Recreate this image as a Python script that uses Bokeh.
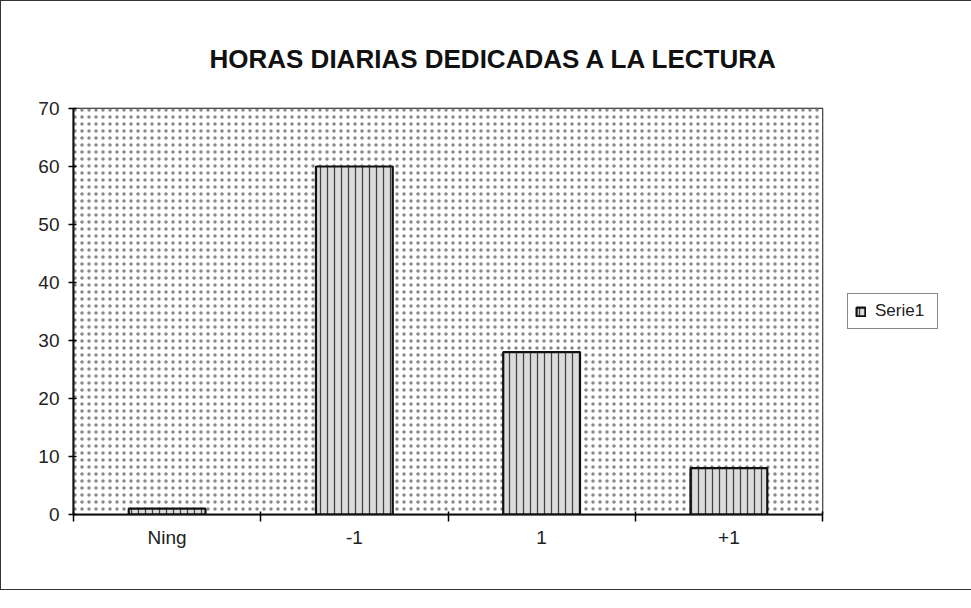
from bokeh.plotting import figure
from bokeh.models import (Range1d, LinearAxis, FixedTicker, BoxAnnotation,
                          Legend, LegendItem, ColumnDataSource)
from bokeh.embed import file_html
from bokeh.resources import INLINE

# ---- data ----
categories = ["Ning", "-1", "1", "+1"]
values = [1, 60, 28, 8]
y_ticks = [0, 10, 20, 30, 40, 50, 60, 70]
series_name = "Serie1"
title_text = "HORAS DIARIAS DEDICADAS A LA LECTURA"

centers = [i + 0.5 for i in range(len(categories))]
bounds = list(range(len(categories) + 1))

src = ColumnDataSource(dict(x=centers, top=values, cat=categories))

p = figure(width=960, height=588, frame_width=749, frame_height=406,
           output_backend="svg", toolbar_location=None,
           x_range=Range1d(0, len(categories)), y_range=Range1d(0, 70),
           x_axis_type=None, y_axis_type=None,
           min_border_left=72, min_border_right=0, min_border_top=107,
           min_border_bottom=75)
p.styles = {"border": "1.5px solid #333"}
p.background_fill_color = "white"
p.border_fill_color = "white"
p.outline_line_color = "#111"
p.outline_line_width = 1.5
p.grid.visible = False

# dotted background of the plot area
bg = BoxAnnotation(fill_color="white", fill_alpha=1.0, line_alpha=0,
                   hatch_pattern=".", hatch_scale=7, hatch_weight=1.0,
                   hatch_color="#888", level="underlay")
p.add_layout(bg)

# title
p.title.text = title_text
p.title.align = "left"
p.title.text_font = "Liberation Sans"
p.title.text_font_size = "26px"
p.title.text_font_style = "bold"
p.title.text_color = "#111"
p.title.standoff = 70
p.title.offset = 136

# y axis
yax = LinearAxis(ticker=FixedTicker(ticks=y_ticks, minor_ticks=[]))
yax.axis_line_width = 2
yax.axis_line_color = "#111"
yax.major_tick_in = 3
yax.major_tick_out = 5
yax.major_tick_line_width = 1.5
yax.major_label_text_font = "Liberation Sans"
yax.major_label_text_font_size = "19px"
yax.major_label_text_color = "#222"
yax.major_label_standoff = 9
p.add_layout(yax, "left")

# x axis ticks at category boundaries (no labels)
xt = LinearAxis(ticker=FixedTicker(ticks=bounds, minor_ticks=[]))
xt.axis_line_width = 2
xt.axis_line_color = "#111"
xt.major_tick_in = 3
xt.major_tick_out = 7
xt.major_tick_line_width = 1.5
xt.major_label_overrides = {b: "" for b in bounds}
xt.major_label_standoff = 0
p.add_layout(xt, "below")

# x axis category labels
xl = LinearAxis(ticker=FixedTicker(ticks=centers, minor_ticks=[]))
xl.major_label_overrides = {c: lab for c, lab in zip(centers, categories)}
xl.axis_line_color = None
xl.major_tick_in = 0
xl.major_tick_out = 0
xl.major_label_text_font = "Liberation Sans"
xl.major_label_text_font_size = "19px"
xl.major_label_text_color = "#222"
xl.major_label_standoff = 5
p.add_layout(xl, "below")

r = p.vbar(x="x", top="top", bottom=0, width=0.41, source=src,
           fill_color="#dcdcdc", line_color="#111", line_width=2.2,
           hatch_pattern="|", hatch_scale=7, hatch_weight=1.3,
           hatch_color="#444")

legend = Legend(items=[LegendItem(label=series_name, renderers=[r])],
                location="left",
                border_line_color="#111", border_line_width=1.5,
                background_fill_color="white", background_fill_alpha=1,
                label_text_font="Liberation Sans", label_text_font_size="17px",
                label_text_color="#222", glyph_width=11, glyph_height=11,
                padding=7, spacing=0, label_standoff=9, label_width=55,
                margin=25)
p.add_layout(legend, "right")

open("out.html", "w").write(file_html(p, INLINE))
